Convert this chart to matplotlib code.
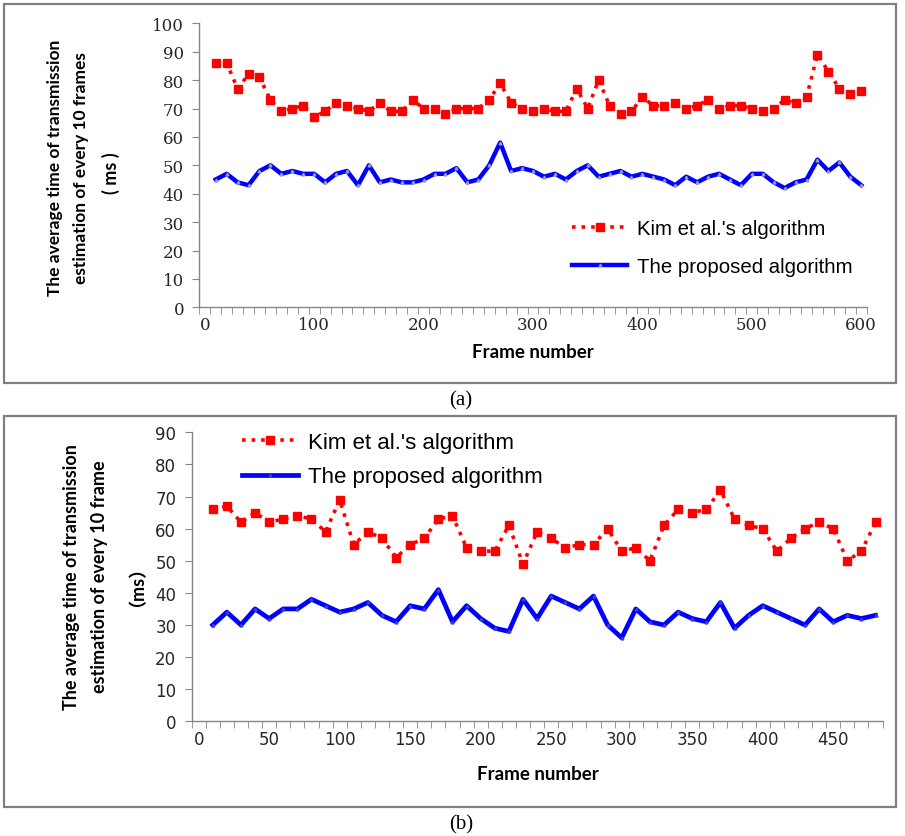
import matplotlib
matplotlib.use("Agg")
import matplotlib.pyplot as plt
from matplotlib.patches import Rectangle

plt.rcParams["font.family"] = "DejaVu Sans"

# %% data (a)
frames_a = list(range(10, 610, 10))
kim_a = [86, 86, 77, 82, 81, 73, 69, 70, 71, 67,
         69, 72, 71, 70, 69, 72, 69, 69, 73, 70,
         70, 68, 70, 70, 70, 73, 79, 72, 70, 69,
         70, 69, 69, 77, 70, 80, 71, 68, 69, 74,
         71, 71, 72, 70, 71, 73, 70, 71, 71, 70,
         69, 70, 73, 72, 74, 89, 83, 77, 75, 76]
ours_a = [45, 47, 44, 43, 48, 50, 47, 48, 47, 47,
          44, 47, 48, 43, 50, 44, 45, 44, 44, 45,
          47, 47, 49, 44, 45, 50, 58, 48, 49, 48,
          46, 47, 45, 48, 50, 46, 47, 48, 46, 47,
          46, 45, 43, 46, 44, 46, 47, 45, 43, 47,
          47, 44, 42, 44, 45, 52, 48, 51, 46, 43]

# %% data (b)
frames_b = list(range(10, 490, 10))
kim_b = [66, 67, 62, 65, 62, 63, 64, 63, 59, 69,
         55, 59, 57, 51, 55, 57, 63, 64, 54, 53,
         53, 61, 49, 59, 57, 54, 55, 55, 60, 53,
         54, 50, 61, 66, 65, 66, 72, 63, 61, 60,
         53, 57, 60, 62, 60, 50, 53, 62]
ours_b = [30, 34, 30, 35, 32, 35, 35, 38, 36, 34,
          35, 37, 33, 31, 36, 35, 41, 31, 36, 32,
          29, 28, 38, 32, 39, 37, 35, 39, 30, 26,
          35, 31, 30, 34, 32, 31, 37, 29, 33, 36,
          34, 32, 30, 35, 31, 33, 32, 33]

labels = ["Kim et al.'s algorithm", "The proposed algorithm"]

W, H = 905, 837
fig = plt.figure(figsize=(W / 100, H / 100), dpi=100)


def fx(px):
    return px / W


def fy(py):
    return 1 - py / H


# frames round the two panels
for top, bot in [(5, 384), (417, 808)]:
    fig.patches.append(Rectangle((fx(4), fy(bot)), fx(892), (bot - top) / H,
                                 transform=fig.transFigure, fill=False,
                                 edgecolor="#7f7f7f", linewidth=1.6))


def style_axes(ax, xmax, ymax, xstep, tickfont, ticksize):
    ax.set_xlim(-5, xmax)
    ax.set_ylim(0, ymax)
    for s in ["top", "right"]:
        ax.spines[s].set_visible(False)
    for s in ["left", "bottom"]:
        ax.spines[s].set_color("#868686")
        ax.spines[s].set_linewidth(1.0)
    ax.set_yticks(range(0, ymax + 1, 10))
    ax.set_xticks(range(0, int(xmax), xstep))
    ax.set_xticks([x - 5 for x in range(0, int(xmax) + 6, 10)], minor=True)
    ax.tick_params(axis="x", which="major", length=0, pad=6)
    ax.tick_params(axis="x", which="minor", length=5, color="#868686")
    ax.tick_params(axis="y", length=5, color="#868686", pad=6)
    for t in ax.get_xticklabels() + ax.get_yticklabels():
        t.set_fontfamily(tickfont)
        t.set_fontsize(ticksize)
        t.set_color("#262626")


# %% (a)
ax1 = fig.add_axes([fx(199.3), fy(308.3), fx(866.7 - 199.3), 284 / H])
ax1.plot(frames_a, kim_a, ":", color="#ff0000", lw=2.6, marker="s", ms=5.5,
         label=labels[0])
ax1.plot(frames_a, ours_a, "-", color="#0000ff", lw=3.2, marker="^", ms=2,
         mfc="#9a9ab0", mec="#9a9ab0", label=labels[1])
style_axes(ax1, 605, 100, 100, "DejaVu Serif", 12)
ax1.legend(loc="upper left", bbox_to_anchor=(fx(572), fy(220)),
           bbox_transform=fig.transFigure, frameon=False, numpoints=1,
           handlelength=2.7, handletextpad=0.5, labelspacing=0.95,
           borderpad=0, borderaxespad=0,
           prop={"family": "Liberation Sans", "size": 14.7})
fig.text(fx(533), fy(353), "Frame number", ha="center", va="center",
         family="Lato", weight="bold", fontsize=13.5)
fig.text(fx(55), fy(168), "The average time of transmission", rotation=90,
         ha="center", va="center", family="Lato", weight="bold", fontsize=12.5)
fig.text(fx(81), fy(168), "estimation of every 10 frames", rotation=90,
         ha="center", va="center", family="Lato", weight="bold", fontsize=12.5)
fig.text(fx(111), fy(173), "( ms )", rotation=90,
         ha="center", va="center", family="Lato", weight="bold", fontsize=13)
fig.text(fx(461), fy(401), "(a)", ha="center", va="center",
         family="Liberation Serif", fontsize=15)

# %% (b)
ax2 = fig.add_axes([fx(191.6), fy(722.3), fx(883.3 - 191.6), 289 / H])
ax2.plot(frames_b, kim_b, ":", color="#ff0000", lw=2.6, marker="s", ms=5.5,
         label=labels[0])
ax2.plot(frames_b, ours_b, "-", color="#0000ff", lw=3.4, marker="^", ms=2,
         mfc="#4040c0", mec="#4040c0", label=labels[1])
style_axes(ax2, 485.5, 90, 50, "DejaVu Sans", 12)
ax2.legend(loc="upper left", bbox_to_anchor=(fx(242), fy(433)),
           bbox_transform=fig.transFigure, frameon=False, numpoints=1,
           handlelength=2.5, handletextpad=0.45, labelspacing=0.6,
           borderpad=0, borderaxespad=0,
           prop={"family": "Liberation Sans", "size": 16})
fig.text(fx(538), fy(775), "Frame number", ha="center", va="center",
         family="Lato", weight="bold", fontsize=13.5)
fig.text(fx(72), fy(577), "The average time of transmission", rotation=90,
         ha="center", va="center", family="Lato", weight="bold", fontsize=13)
fig.text(fx(100), fy(577), "estimation of every 10 frame", rotation=90,
         ha="center", va="center", family="Lato", weight="bold", fontsize=13)
fig.text(fx(128), fy(577), "\uff08ms\uff09", rotation=90,
         ha="center", va="center", family=["Lato", "Noto Sans CJK SC"],
         weight="bold", fontsize=13)
fig.text(fx(461), fy(825), "(b)", ha="center", va="center",
         family="Liberation Serif", fontsize=15)

fig.savefig("out.png", dpi=100)
